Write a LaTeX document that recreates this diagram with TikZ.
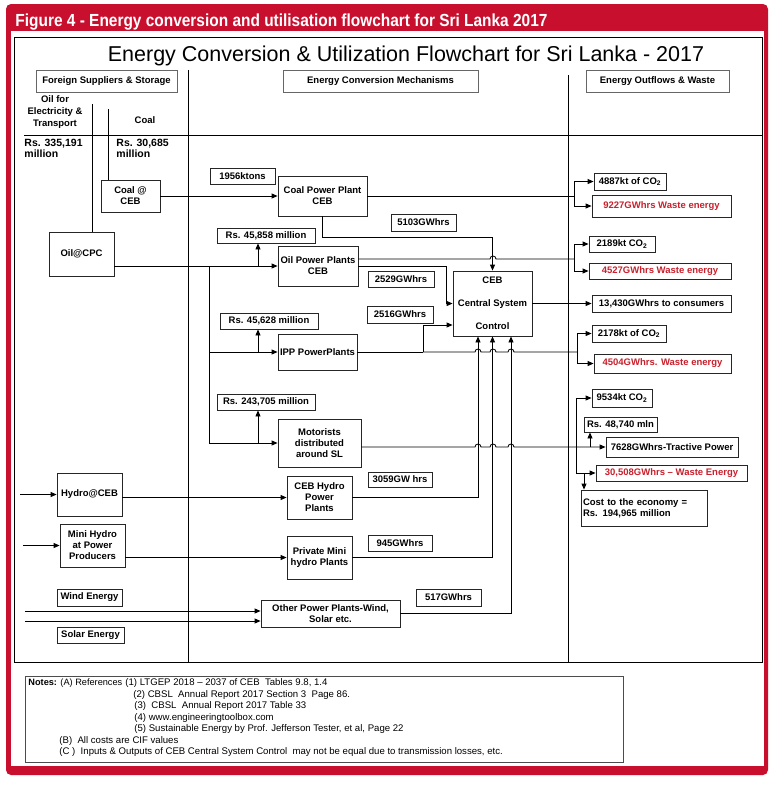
\documentclass[tikz,border=0pt]{standalone}
\usepackage{fontspec}
\setmainfont{Liberation Sans}
\usepackage{graphicx}
\usetikzlibrary{arrows.meta}
\definecolor{framered}{HTML}{C8102E}
\definecolor{wred}{HTML}{C8202C}

\begin{document}
\begin{tikzpicture}[x=1pt,y=-1pt,line width=0.85pt,>={Triangle[length=6pt,width=5pt]},
  box/.style={draw=black!85,align=center,inner sep=1pt,font=\bfseries\fontsize{9.5}{11}\selectfont},
  waste/.style={box,text=wred},
  txt/.style={align=center,inner sep=0pt,font=\bfseries\fontsize{9.5}{11}\selectfont},
  note/.style={anchor=base west,inner sep=0pt,font=\fontsize{9.6}{11}\selectfont}]
\useasboundingbox (0,0) rectangle (770,785);
\fill[white] (0,0) rectangle (770,785);
\fill[framered,rounded corners=5pt] (6,4) rectangle (768,775);
\fill[white] (11,31) rectangle (764,766);
\node[anchor=base west,inner sep=0pt,text=white,font=\bfseries\fontsize{17.5}{20}\selectfont] (hdr) at (15,26)
  {\resizebox{532pt}{\height}{Figure 4 - Energy conversion and utilisation flowchart for Sri Lanka 2017}};
\draw (14,37) rectangle (762,662);
\node[anchor=base,inner sep=0pt,font=\fontsize{21.5}{24}\selectfont] (title) at (406,61)
  {Energy Conversion \& Utilization Flowchart for Sri Lanka - 2017};
\draw (188,70) -- (188,662) (568,75) -- (568,662) (24,135) -- (762,135);
\node[box,draw=black!60,minimum width=141,minimum height=22] (fs) at (106.5,81) {Foreign Suppliers \& Storage};
\node[box,draw=black!60,minimum width=195,minimum height=22] (ecm) at (380.5,81) {Energy Conversion Mechanisms};
\node[box,draw=black!60,minimum width=143,minimum height=22] (eow) at (657.5,81) {Energy Outflows \& Waste};

\node[txt,font=\bfseries\fontsize{9.5}{12}\selectfont] (oilfor) at (55,112) {Oil for\\Electricity \&\\Transport};
\node[txt] (coallbl) at (145,120) {Coal};
\node[txt,align=left,anchor=west,font=\bfseries\fontsize{10.5}{11.5}\selectfont] (rs1) at (24,148.5) {Rs. 335,191\\million};
\node[txt,align=left,anchor=west,font=\bfseries\fontsize{10.5}{11.5}\selectfont] (rs2) at (116,148.5) {Rs. 30,685\\million};

\node[box,minimum width=59,minimum height=32] (coalceb) at (130.5,196) {Coal @\\CEB};
\node[box,minimum width=65,minimum height=44] (cpc) at (81.5,254) {Oil@CPC};
\node[box,minimum width=65,minimum height=43] (hydroceb) at (89.5,494.5) {Hydro@CEB};
\node[box,minimum width=65,minimum height=43] (minihydro) at (92.5,545.5) {Mini Hydro\\at Power\\Producers};
\node[box,minimum width=65,minimum height=17] (wind) at (89.5,597.5) {Wind Energy};
\node[box,minimum width=67,minimum height=16] (solar) at (90.5,635) {Solar Energy};

\node[box,minimum width=65,minimum height=16] (kt) at (242.5,176) {1956ktons};
\node[box,minimum width=89,minimum height=40] (coalpp) at (322.5,196) {Coal Power Plant\\CEB};
\node[box,minimum width=98,minimum height=15] (r1) at (266,235.5) {Rs. 45,858 million};
\node[box,minimum width=80,minimum height=40] (oilpp) at (318,266) {Oil Power Plants\\CEB};
\node[box,minimum width=98,minimum height=16] (r2) at (269,321) {Rs. 45,628 million};
\node[box,minimum width=79,minimum height=36] (ipp) at (317.5,352) {IPP PowerPlants};
\node[box,minimum width=98,minimum height=16] (r3) at (266,402) {Rs. 243,705 million};
\node[box,minimum width=83,minimum height=48] (mot) at (319.5,443) {Motorists\\distributed\\around SL};
\node[box,minimum width=65,minimum height=43] (cebhydro) at (319.5,497.5) {CEB Hydro\\Power\\Plants};
\node[box,minimum width=65,minimum height=43] (pmh) at (319.5,557.5) {Private Mini\\hydro Plants};
\node[box,minimum width=139,minimum height=27] (other) at (330.5,613.5) {Other Power Plants-Wind,\\Solar etc.};

\node[box,minimum width=65,minimum height=17] (g5103) at (423.5,222.5) {5103GWhrs};
\node[box,minimum width=66,minimum height=16] (g2529) at (401,279) {2529GWhrs};
\node[box,minimum width=66,minimum height=17] (g2516) at (400,314.5) {2516GWhrs};
\node[box,minimum width=79,minimum height=65] (ceb) at (492.5,303.5) {CEB\\[12pt]Central System\\[12pt]Control};
\node[box,minimum width=64,minimum height=15] (g3059) at (400,479.5) {3059GW hrs};
\node[box,minimum width=64,minimum height=16] (g945) at (400,543) {945GWhrs};
\node[box,minimum width=65,minimum height=17] (g517) at (448.5,597.5) {517GWhrs};

\node[box,minimum width=72,minimum height=17] (co1) at (630,181.5) {4887kt of CO\textsubscript{2}};
\node[waste,minimum width=139,minimum height=22] (w1) at (661.5,206) {9227GWhrs Waste energy};
\node[box,minimum width=66,minimum height=16] (co2) at (622,244) {2189kt CO\textsubscript{2}};
\node[waste,minimum width=142,minimum height=16] (w2) at (660,271) {4527GWhrs Waste energy};
\node[box,minimum width=139,minimum height=17] (cons) at (661.5,303.5) {13,430GWhrs to consumers};
\node[box,minimum width=74,minimum height=17] (co3) at (629,333.5) {2178kt of CO\textsubscript{2}};
\node[waste,minimum width=137,minimum height=19] (w3) at (662.5,363.5) {4504GWhrs. Waste energy};
\node[box,minimum width=60,minimum height=18] (co4) at (622,398) {9534kt CO\textsubscript{2}};
\node[box,minimum width=73,minimum height=15] (rs4) at (620.5,424.5) {Rs. 48,740 mln};
\node[box,minimum width=132,minimum height=20] (tp) at (672,447) {7628GWhrs-Tractive Power};
\node[waste,minimum width=151,minimum height=16] (w4) at (671.5,473) {30,508GWhrs -- Waste Energy};
\node[box,minimum width=126,minimum height=36,align=left,text width=122,inner sep=2pt] (cost) at (644,508) {Cost to the economy =\\Rs. 194,965 million};

\coordinate (o1) at (92,104);
\coordinate (c1) at (108,109);
\coordinate (d0) at (209,266);
\coordinate (a1) at (258,266);
\coordinate (a2) at (258,352);
\coordinate (a3) at (258,443);
\coordinate (k1) at (322.5,237);
\coordinate (k2) at (446,266);
\coordinate (k3) at (423,352);
\coordinate (j1) at (574,196);
\coordinate (j2) at (574,259);
\coordinate (j3) at (577,352);
\coordinate (j4) at (576,447);
\coordinate (a4) at (590,447);
\coordinate (a5) at (584,473);
\coordinate (h0) at (20,494.5);
\coordinate (m0) at (23,545.5);
\coordinate (w0) at (25,611);
\coordinate (s0) at (25,621);

\draw (o1) -- (o1|-cpc.north) (c1) -- (c1|-coalceb.north);
\draw[->] (coalceb) -- (coalpp);
\draw[->] (cpc.east|-oilpp.west) -- (oilpp.west);
\draw[->] (d0) |- (ipp);
\draw[->] (d0) |- (mot);
\draw[->] (a1) -- (a1|-r1.south);
\draw[->] (a2) -- (a2|-r2.south);
\draw[->] (a3) -- (a3|-r3.south);
\draw[->] (h0) -- (h0-|hydroceb.west);
\draw[->] (m0) -- (m0-|minihydro.west);
\draw[->] (hydroceb.east|-cebhydro) -- (cebhydro.west);
\draw[->] (minihydro.east|-pmh) -- (pmh.west);
\draw[->] (w0) -- (w0-|other.west);
\draw[->] (s0) -- (s0-|other.west);

\draw (coalpp.east) -- (j1);
\draw[->] (j1) |- (co1);
\draw[->] (j1) |- (w1);
\draw[->] (coalpp.south) -- (k1) -| (ceb.north);
\draw ([yshift=7pt]oilpp.east) -- (490,259) arc[start angle=180,end angle=0,radius=3pt] -- (j2);
\draw[->] (j2) |- (co2);
\draw[->] (j2) |- (w2);
\draw[->] (oilpp.east) -- (k2) |- (ceb.west);
\draw (ipp.east) -- (k3);
\draw[->] (k3) |- ([yshift=-21.5pt]ceb.west);
\draw (k3) \foreach \h in {478,493,511}{-- (\h-3,352) arc[start angle=180,end angle=0,radius=3pt]} -- (j3);
\draw[->] (j3) |- (co3);
\draw[->] (j3) |- (w3);
\draw[->] (ceb) -- (cons);
\draw[->] (cebhydro.east) -| ([xshift=-14.5pt]ceb.south);
\draw[->] (pmh.east) -| (ceb.south);
\draw[->] (other.east) -| ([xshift=18.5pt]ceb.south);
\draw[->] (mot.east|-tp) \foreach \h in {478,493,511}{-- (\h-3,447) arc[start angle=180,end angle=0,radius=3pt]} -- (tp.west);
\draw[->] (j4) |- (co4);
\draw[->] (j4) |- (w4);
\draw[->] (a4) -- (a4|-rs4.south);
\draw[->] (a5) -- (a5|-cost.north);

\draw[black!70] (25,676) rectangle (623,762);
\node[note,font=\fontsize{9.2}{11}\selectfont] (n0) at (28,685) {\textbf{Notes:} (A) References};
\node[note] (n1) at (125,685) {(1) LTGEP 2018 -- 2037 of CEB\ \ Tables 9.8, 1.4};
\node[note] (n2) at (133,697) {(2) CBSL\ \ Annual Report 2017 Section 3\ \ Page 86.};
\node[note] (n3) at (134,708) {(3)\ \ CBSL\ \ Annual Report 2017 Table 33};
\node[note] (n4) at (134,720) {(4) www.engineeringtoolbox.com};
\node[note] (n5) at (134,731) {(5) Sustainable Energy by Prof. Jefferson Tester, et al, Page 22};
\node[note] (n6) at (59,743) {(B)\ \ All costs are CIF values};
\node[note] (n7) at (59,754) {(C )\ \ Inputs \& Outputs of CEB Central System Control\ \ may not be equal due to transmission losses, etc.};
\end{tikzpicture}
\end{document}
